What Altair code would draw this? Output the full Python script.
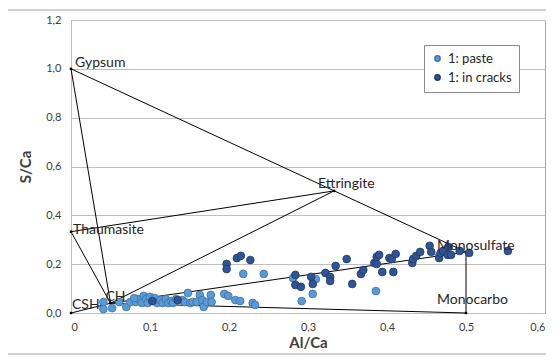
import altair as alt
import pandas as pd

# ---- data ----
paste_x = [0.041, 0.041, 0.052, 0.061, 0.070, 0.075, 0.082, 0.086, 0.090, 0.092, 0.095, 0.097,
           0.100, 0.106, 0.109, 0.113, 0.116, 0.120, 0.123, 0.127, 0.129, 0.133, 0.141, 0.144,
           0.148, 0.151, 0.154, 0.159, 0.163, 0.166, 0.168, 0.172, 0.177, 0.178, 0.194, 0.199,
           0.208, 0.214, 0.230, 0.233, 0.080,
           0.218, 0.244, 0.281, 0.310, 0.306, 0.292, 0.386, 0.466]
paste_y = [0.045, 0.016, 0.020, 0.045, 0.025, 0.045, 0.045, 0.057, 0.041, 0.070, 0.057, 0.041,
           0.066, 0.061, 0.041, 0.053, 0.041, 0.057, 0.041, 0.049, 0.041, 0.057, 0.053, 0.045,
           0.082, 0.041, 0.045, 0.045, 0.074, 0.053, 0.025, 0.045, 0.074, 0.045, 0.078, 0.070,
           0.053, 0.049, 0.041, 0.033, 0.061,
           0.160, 0.160, 0.143, 0.139, 0.078, 0.049, 0.090, 0.234]

cracks_x = [0.103, 0.135, 0.197, 0.197, 0.210, 0.215, 0.227, 0.284, 0.284, 0.291, 0.304, 0.306,
            0.322, 0.328, 0.328, 0.335, 0.349, 0.356, 0.367, 0.370, 0.384, 0.387, 0.387, 0.390,
            0.394, 0.403, 0.406, 0.408, 0.411, 0.432, 0.433, 0.437, 0.442, 0.454, 0.456, 0.466,
            0.468, 0.471, 0.477, 0.478, 0.481, 0.492, 0.504, 0.553]
cracks_y = [0.049, 0.053, 0.201, 0.180, 0.225, 0.234, 0.217, 0.156, 0.115, 0.107, 0.148, 0.119,
            0.164, 0.148, 0.131, 0.193, 0.221, 0.119, 0.160, 0.176, 0.205, 0.201, 0.230, 0.238,
            0.168, 0.225, 0.221, 0.168, 0.242, 0.205, 0.221, 0.234, 0.250, 0.275, 0.250, 0.225,
            0.246, 0.254, 0.238, 0.270, 0.238, 0.254, 0.246, 0.254]

phase_names = ["Gypsum", "Thaumasite", "Ettringite", "Monosulfate", "Monocarbo", "CSH", "CH"]
phase_x = [0.0, 0.0, 0.333, 0.5, 0.5, 0.0, 0.05]
phase_y = [1.0, 0.333, 0.5, 0.25, 0.0, 0.0, 0.04]

tie_from = ["Gypsum", "Gypsum", "Thaumasite", "CH", "CH", "CH", "CH", "CH", "Monosulfate"]
tie_to = ["Monosulfate", "CH", "Ettringite", "Thaumasite", "Ettringite", "Monosulfate",
          "Monocarbo", "CSH", "Monocarbo"]

series_names = ["1: paste", "1: in cracks"]

# ---- tables ----
pts = pd.DataFrame({
    "x": paste_x + cracks_x,
    "y": paste_y + cracks_y,
    "series": [series_names[0]] * len(paste_x) + [series_names[1]] * len(cracks_x),
})
phases = pd.DataFrame({"name": phase_names, "x": phase_x, "y": phase_y})
pos = {n: (a, b) for n, a, b in zip(phase_names, phase_x, phase_y)}
ties = pd.DataFrame({
    "x": [pos[a][0] for a in tie_from], "y": [pos[a][1] for a in tie_from],
    "x2": [pos[b][0] for b in tie_to], "y2": [pos[b][1] for b in tie_to],
})

FONT = "Lato"
W, H = 474, 293

xs = alt.Scale(domain=[0, 0.6], nice=False)
ys = alt.Scale(domain=[0, 1.2], nice=False)

x_axis = alt.Axis(values=[0, 0.1, 0.2, 0.3, 0.4, 0.5, 0.6], grid=False, ticks=False,
                  domain=False, labelFont=FONT, labelFontSize=11, labelColor="#404040",
                  labelPadding=8,
                  labelExpr="datum.value == 0 ? '0' : replace(format(datum.value, '.1f'), '.', ',')",
                  title="Al/Ca", titleFont=FONT, titleFontSize=15, titleFontWeight="bold",
                  titleColor="#404040", titlePadding=3)
y_axis = alt.Axis(values=[0, 0.2, 0.4, 0.6, 0.8, 1.0, 1.2], grid=True, gridColor="#BFBFBF",
                  ticks=False, domain=True, domainColor="#BFBFBF", labelFont=FONT,
                  labelFontSize=11, labelColor="#404040", labelPadding=10,
                  labelExpr="replace(format(datum.value, '.1f'), '.', ',')",
                  title="S/Ca", titleFont=FONT, titleFontSize=15, titleFontWeight="bold",
                  titleColor="#404040", titlePadding=12)

frame = alt.Chart(pd.DataFrame({"a": [0]})).mark_rect(
    fill=None, stroke="#A6A6A6", strokeWidth=1, clip=False
).encode(x=alt.value(-64), x2=alt.value(478), y=alt.value(-10), y2=alt.value(334))

base_axes = alt.Chart(phases).mark_point(opacity=0).encode(
    x=alt.X("x:Q", scale=xs, axis=x_axis),
    y=alt.Y("y:Q", scale=ys, axis=y_axis),
)

lines = alt.Chart(ties).mark_rule(color="black", strokeWidth=1).encode(
    x=alt.X("x:Q", scale=xs), y=alt.Y("y:Q", scale=ys),
    x2="x2:Q", y2="y2:Q",
)

verts = alt.Chart(phases).mark_square(color="black", size=6, opacity=1).encode(
    x=alt.X("x:Q", scale=xs), y=alt.Y("y:Q", scale=ys),
)

color_scale = alt.Scale(domain=series_names, range=["#5B9BD5", "#2F5597"])
stroke_scale = alt.Scale(domain=series_names, range=["#3A70A8", "#1F3864"])
legend = alt.Legend(orient="none", legendX=353, legendY=25, title=None,
                    strokeColor="#8C8C8C", fillColor="white", padding=7,
                    labelFont=FONT, labelFontSize=13, labelColor="#262626",
                    symbolSize=28, rowPadding=5, symbolType="circle")

scatter = alt.Chart(pts).mark_point(filled=True, size=60, opacity=1, strokeWidth=0.8).encode(
    x=alt.X("x:Q", scale=xs), y=alt.Y("y:Q", scale=ys),
    fill=alt.Fill("series:N", scale=color_scale, legend=legend),
    stroke=alt.Stroke("series:N", scale=stroke_scale, legend=legend),
    order=alt.Order("series:N", sort="descending"),
)

label_style = {
    "Gypsum": (4, -6, "left"),
    "Thaumasite": (2, -2, "left"),
    "Ettringite": (-16, -7, "left"),
    "Monosulfate": (-29, -6, "left"),
    "Monocarbo": (-29, -13, "left"),
    "CSH": (1, -8, "left"),
    "CH": (-5, -6, "left"),
}
texts = []
for n in phase_names:
    dx, dy, al = label_style[n]
    texts.append(
        alt.Chart(phases[phases["name"] == n]).mark_text(
            dx=dx, dy=dy, align=al, baseline="middle", font=FONT, fontSize=14, color="#262626"
        ).encode(x=alt.X("x:Q", scale=xs), y=alt.Y("y:Q", scale=ys), text="name:N")
    )

chart = alt.layer(frame, base_axes, lines, verts, scatter, *texts).properties(
    width=W, height=H,
    autosize=alt.AutoSizeParams(type="none"),
    padding={"left": 63, "top": 12, "right": 1, "bottom": 42},
).configure_view(stroke="#A6A6A6", strokeWidth=1)

chart.save("out.html", embed_options={"renderer": "svg", "actions": False})
